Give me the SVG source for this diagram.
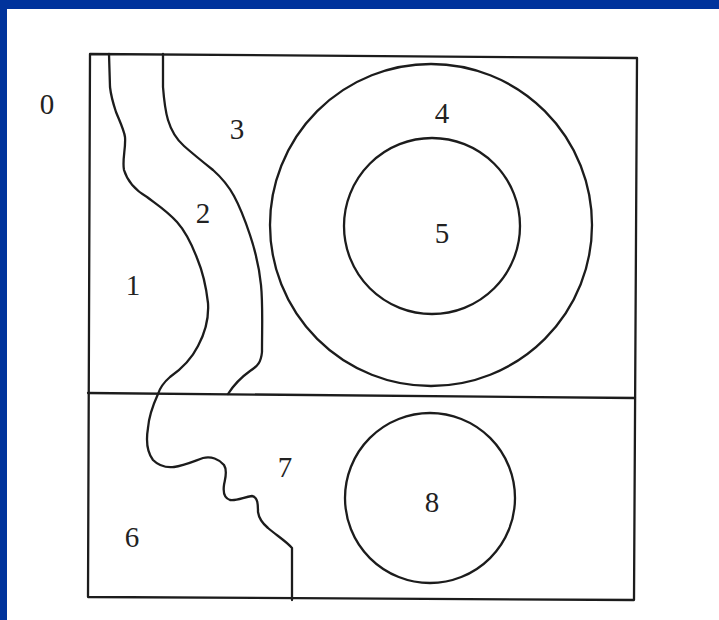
<svg xmlns="http://www.w3.org/2000/svg" width="719" height="620" viewBox="0 0 719 620">
<style>
.ln{fill:none;stroke:#1c1c1c;stroke-width:2.3;stroke-linejoin:round;stroke-linecap:round}
.lb{font-family:"Liberation Serif","Times New Roman",serif;font-size:29px;fill:#222;text-anchor:middle}
</style>
<rect x="0" y="0" width="719" height="620" fill="#ffffff"/>
<rect x="0" y="0" width="719" height="9" fill="#00339c"/>
<rect x="0" y="0" width="7" height="620" fill="#00339c"/>
<g id="frame">
<path class="ln" d="M90,54 L637,58 L634,600 L88,597 Z"/>
<path class="ln" d="M88,393 L635,398"/>
</g>
<g id="boundaries">
<path class="ln" d="M109,54 L110,87 C111,96 113,103 116,112 C120,122 124,130 125,137 C126,148 122,160 124,170 C127,180 135,190 147,197 C156,204 166,210 177,222 C186,232 192,245 197,258 C202,270 206,285 208,303 C209,318 205,333 198,346 C191,360 180,370 170,377 C163,383 160,388 158,394 C153,405 149,415 148,428 C146,440 147,452 153,460 C159,466 165,468 174,467 C183,466 192,462 203,458 C211,456 219,459 224,465 C228,471 225,479 224,485 C223,492 224,498 230,500 C237,501 244,497 252,496 C258,497 258,505 258,512 C259,519 262,523 268,528 C276,535 286,541 292,548 L292,600"/>
<path class="ln" d="M163,54 L163,87 C164,100 165,110 168,120 C171,130 175,138 184,146 C193,154 203,162 213,170 C222,178 228,185 234,196 C240,207 245,220 250,235 C255,250 259,265 261,285 C263,305 262,325 262,352 C261,362 258,366 250,371 C243,376 235,383 228,394"/>
</g>
<g id="regions">
<circle class="ln" cx="431" cy="225" r="161"/>
<circle class="ln" cx="432" cy="226" r="88"/>
<circle class="ln" cx="430" cy="498" r="85"/>
</g>
<g id="labels">
<text class="lb" x="47" y="114">0</text>
<text class="lb" x="133" y="295">1</text>
<text class="lb" x="203" y="223">2</text>
<text class="lb" x="237" y="139">3</text>
<text class="lb" x="442" y="123">4</text>
<text class="lb" x="442" y="243">5</text>
<text class="lb" x="132" y="547">6</text>
<text class="lb" x="285" y="477">7</text>
<text class="lb" x="432" y="512">8</text>
</g>
</svg>
